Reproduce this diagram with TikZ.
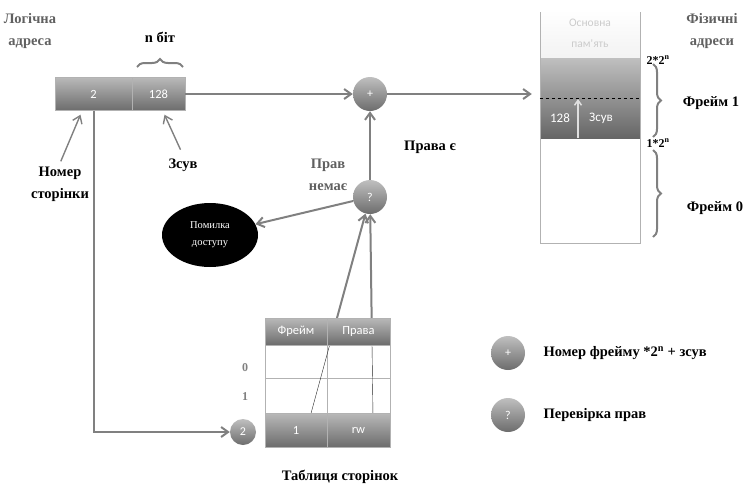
\documentclass[tikz,border=0pt]{standalone}
\usepackage{fontspec}
\setmainfont{Liberation Serif}
\newfontfamily\lblfont{Liberation Serif}
\newfontfamily\cellfont{Carlito}
\usetikzlibrary{arrows.meta,positioning,decorations.pathreplacing,shapes.geometric,calc}

\tikzset{
	cell/.style={draw=gray!60, top color=gray!55, bottom color=gray!85!black, text=white,
		font=\cellfont\fontsize{12.5}{14}\selectfont, minimum height=33pt, inner sep=0pt},
	blank/.style={draw=gray!60, fill=white, inner sep=0pt},
	dot/.style={circle, top color=gray!50, bottom color=gray!85!black, text=white,
		minimum size=34pt, inner sep=0pt, font=\cellfont\fontsize{12}{14}\selectfont},
	lbl/.style={font=\lblfont\bfseries\fontsize{14.5}{22}\selectfont, align=center},
	glbl/.style={lbl, text=gray!75!black},
	link/.style={draw=gray, line width=2pt, -{Straight Barb[length=7pt,width=10pt]}},
	pointer/.style={link, line width=1.4pt},
	brc/.style={draw=gray, line width=2pt, decorate, decoration={brace, amplitude=8pt}},
}

\begin{document}
\begin{tikzpicture}[x=1pt, y=-1pt]
		\useasboundingbox (0,0) rectangle (753,488);

		\node[cell, minimum width=77pt] (page) at (93.5,94) {2};
		\node[cell, minimum width=53pt] (off) at (158.5,94) {128};
		\node[dot] (add) at (370,94) {+};
		\node[dot] (chk) at (370,197) {?};
		\node[ellipse, fill=black, minimum width=96pt, minimum height=64pt, text=white,
			font=\lblfont\fontsize{10.5}{17}\selectfont, align=center] (err) at (210,235) {Помилка\\доступу};
		\node[dot, minimum size=26pt] (p2) at (243,432) {2};

		\node[glbl] (lad) at (30,31) {Логічна\\адреса};
		\node[lbl] (nb) at (160,37) {n біт};
		\node[lbl] (pn) at (60,184) {Номер\\сторінки};
		\node[lbl] (sz) at (183,165) {Зсув};
		\node[lbl] (yes) at (430,147) {Права є};
		\node[glbl] (no) at (328,175) {Прав\\немає};
		\node[lbl] (tab) at (340,477) {Таблиця сторінок};

		% memory
		\shade[top color=white, bottom color=gray!10] (540,10) rectangle (640,58);
		\node[minimum width=100pt, minimum height=80pt, inner sep=0pt,
			top color=gray!50, bottom color=gray!80!black] (fr1) at (590,98) {};
		\draw[gray!60] (540,12) -- (540,243) -- (640,243) -- (640,12);
		\draw[dashed, thick] (fr1.west) -- (fr1.east);
		\node[text=gray!40, font=\cellfont\fontsize{11.5}{21}\selectfont, align=center] (mem) at (590,33) {Основна\\пам'ять};
		\node[text=white, font=\cellfont\fontsize{13}{14}\selectfont] (o128) at (560,118) {128};
		\node[text=white, font=\cellfont\fontsize{13}{14}\selectfont] (ozs) at (601,118) {Зсув};
		\coordinate (ofsb) at (578,138);
		\coordinate (ofst) at (578,99);
		\draw[-{Straight Barb[length=5pt,width=7pt]}, gray!25, line width=1.5pt] (ofsb) -- (ofst);

		\node[font=\lblfont\bfseries\fontsize{12}{14}\selectfont] (t2) at (658,60) {2*2\textsuperscript{n}};
		\node[font=\lblfont\bfseries\fontsize{12}{14}\selectfont] (t1) at (658,143) {1*2\textsuperscript{n}};
		\draw[brc] (653,64) -- (653,137);
		\draw[brc] (653,150) -- (653,237);
		\node[glbl] (phys) at (712,31) {Фізичні\\адреси};
		\node[lbl] (fl1) at (711,103) {Фрейм 1};
		\node[lbl] (fl0) at (715,208) {Фрейм 0};

		\draw[brc] (137,67) -- (183,67);

		% connectors
		\draw[link] (off) -- (add);
		\draw[link, shorten >=8pt] (add) -- (add -| fr1.west);
		\draw[link] (chk) -- (add);
		\draw[link] (chk) -- (err);
		\draw[link] (page.south) |- (p2);
		\draw[pointer, shorten <=2pt] (pn.north) -- ($(page.south)+(-13,4)$);
		\draw[pointer, shorten <=6pt] (sz.north) -- ($(off.south)+(6,4)$);

		% page table
		\coordinate (fa) at (310,417);
		\coordinate (ra) at (373,417);
		\draw[link] (fa) -- (chk);
		\draw[link] (ra) -- (chk);
		\node[blank, minimum width=62pt, minimum height=33pt] (r0f) at (296,361.5) {};
		\node[blank, minimum width=63pt, minimum height=33pt] (r0r) at (358.5,361.5) {};
		\node[blank, minimum width=62pt, minimum height=35pt] (r1f) at (296,395.5) {};
		\node[blank, minimum width=63pt, minimum height=35pt] (r1r) at (358.5,395.5) {};
		\draw[gray!30!black] (fa) -- ($(fa)!0.35!(chk)$);
		\draw[gray!30!black] (ra) -- ($(ra)!0.35!(chk)$);
		\node[cell, minimum width=62pt, minimum height=27pt] (hf) at (296,331.5) {Фрейм};
		\node[cell, minimum width=63pt, minimum height=27pt] (hr) at (358.5,331.5) {Права};
		\node[cell, minimum width=62pt, minimum height=34pt] (f1) at (296,430) {1};
		\node[cell, minimum width=63pt, minimum height=34pt] (rw) at (358.5,430) {rw};
		\node[text=gray, font=\lblfont\bfseries\fontsize{12}{14}\selectfont] (n0) at (245,368) {0};
		\node[text=gray, font=\lblfont\bfseries\fontsize{12}{14}\selectfont] (n1) at (245,397) {1};

		% legend
		\node[dot] (lgadd) at (508,353) {+};
		\node[lbl, anchor=west] (lgaddt) at (540,353) {Номер фрейму *2\textsuperscript{n} + зсув};
		\node[dot] (lgchk) at (508,415) {?};
		\node[lbl, anchor=west] (lgchkt) at (540,415) {Перевірка прав};
		\end{tikzpicture}
\end{document}
